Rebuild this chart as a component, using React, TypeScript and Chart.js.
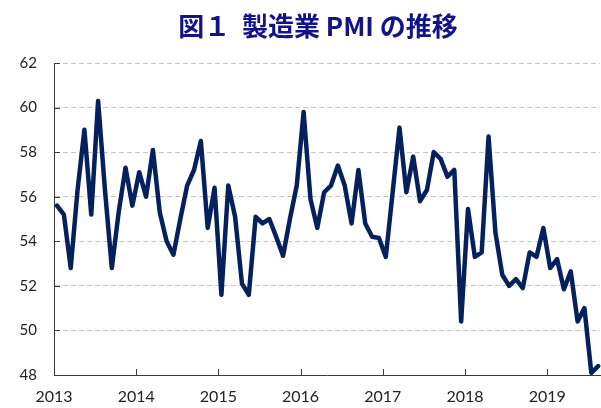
import React, { useEffect, useRef } from "react";
import { Chart, registerables } from "chart.js";

Chart.register(...registerables);

const TITLE = "図１  製造業 PMI の推移";

const YEAR_LABELS = ["2013", "2014", "2015", "2016", "2017", "2018", "2019"];

const MONTHS: string[] = [];
for (let y = 2013; y <= 2019; y++) {
  for (let m = 1; m <= 12; m++) {
    if (y === 2019 && m > 8) break;
    MONTHS.push(`${y}-${String(m).padStart(2, "0")}`);
  }
}

const PMI_2013 = [55.6, 55.2, 52.8, 56.3, 59.0, 55.2, 60.3, 56.3, 52.8, 55.3, 57.3, 55.6];
const PMI_2014 = [57.1, 56.0, 58.1, 55.3, 54.0, 53.4, 55.0, 56.5, 57.2, 58.5, 54.6, 56.4];
const PMI_2015 = [51.6, 56.5, 55.1, 52.1, 51.6, 55.1, 54.8, 55.0, 54.2, 53.35, 55.0, 56.5];
const PMI_2016 = [59.8, 55.9, 54.6, 56.2, 56.5, 57.4, 56.5, 54.8, 57.2, 54.8, 54.2, 54.15];
const PMI_2017 = [53.3, 56.2, 59.1, 56.2, 57.8, 55.8, 56.3, 58.0, 57.7, 56.9, 57.2, 50.4];
const PMI_2018 = [55.45, 53.3, 53.5, 58.7, 54.4, 52.5, 52.0, 52.3, 51.9, 53.5, 53.3, 54.6];
const PMI_2019 = [52.8, 53.2, 51.85, 52.65, 50.4, 51.0, 48.1, 48.4];

const PMI = [...PMI_2013, ...PMI_2014, ...PMI_2015, ...PMI_2016, ...PMI_2017, ...PMI_2018, ...PMI_2019];

const Y_MIN = 48;
const Y_MAX = 62;
const Y_STEP = 2;
const X_MIN = -0.44;
const X_MAX = 79.27;

const AXIS_COLOR = "#3a3a3a";

export default function App() {
  const ref = useRef<HTMLCanvasElement | null>(null);

  useEffect(() => {
    const canvas = ref.current;
    if (!canvas) return;

    const titlePlugin = {
      id: "titleAndTicks",
      afterDraw(chart: any) {
        const ctx = chart.ctx;
        const area = chart.chartArea;
        ctx.save();
        ctx.fillStyle = "#12128a";
        ctx.font = 'bold 26px "Noto Sans CJK JP"';
        ctx.textAlign = "center";
        ctx.textBaseline = "middle";
        ctx.fillText(TITLE, 318, 26);

        ctx.strokeStyle = AXIS_COLOR;
        ctx.lineWidth = 1;
        const ys = chart.scales.y;
        for (let v = Y_MIN; v <= Y_MAX; v += Y_STEP) {
          const py = Math.round(ys.getPixelForValue(v)) + 0.5;
          ctx.beginPath();
          ctx.moveTo(area.left, py);
          ctx.lineTo(area.left + 6, py);
          ctx.stroke();
        }
        const xs = chart.scales.x;
        YEAR_LABELS.forEach((_, k) => {
          const px = Math.round(xs.getPixelForValue(X_MIN + 12 * k)) + 0.5;
          ctx.beginPath();
          ctx.moveTo(px, area.bottom);
          ctx.lineTo(px, area.bottom - 6);
          ctx.stroke();
        });
        ctx.restore();
      },
    };

    const chart = new Chart(canvas, {
      type: "line",
      data: {
        datasets: [
          {
            label: "PMI",
            data: PMI.map((v, i) => ({ x: i, y: v })),
            borderColor: "#04215e",
            borderWidth: 4.5,
            pointRadius: 0,
            tension: 0,
            borderJoinStyle: "round",
            borderCapStyle: "round",
            clip: false,
          } as any,
        ],
      },
      options: {
        responsive: false,
        animation: false,
        devicePixelRatio: 1,
        layout: { padding: { top: 63, right: 1, left: 0, bottom: 0 } },
        plugins: {
          legend: { display: false },
          title: { display: false },
          tooltip: { enabled: false },
        },
        scales: {
          x: {
            type: "linear",
            min: X_MIN,
            max: X_MAX,
            afterBuildTicks: (scale: any) => {
              scale.ticks = YEAR_LABELS.map((_, k) => ({ value: X_MIN + 12 * k }));
            },
            afterFit: (scale: any) => {
              scale.height = 33;
            },
            grid: { display: false, drawTicks: false },
            border: { display: true, color: AXIS_COLOR, width: 1 },
            ticks: {
              autoSkip: false,
              maxRotation: 0,
              padding: 12,
              color: "#222",
              font: { family: "Lato", size: 16 },
              callback: (_v: any, i: number) => YEAR_LABELS[i],
            },
          },
          y: {
            min: Y_MIN,
            max: Y_MAX,
            afterFit: (scale: any) => {
              scale.width = 54;
            },
            grid: {
              drawTicks: false,
              color: (c: any) => (c.tick && c.tick.value === Y_MIN ? "rgba(0,0,0,0)" : "#c4c4c4"),
              lineWidth: 1,
            },
            border: { display: true, color: AXIS_COLOR, width: 1, dash: [5, 3] },
            ticks: {
              stepSize: Y_STEP,
              padding: 17,
              color: "#222",
              font: { family: "Lato", size: 15 },
            },
          },
        },
      },
      plugins: [titlePlugin],
    });

    return () => chart.destroy();
  }, []);

  return (
    <div style={{ position: "absolute", left: 0, top: 0, width: 601, height: 408 }}>
      <canvas ref={ref} width={601} height={408} style={{ display: "block" }} />
    </div>
  );
}
